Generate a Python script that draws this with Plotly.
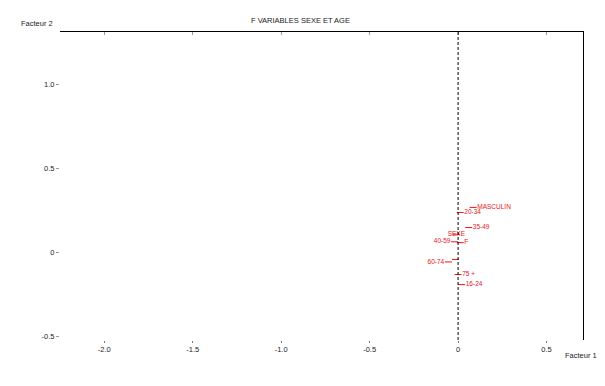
import plotly.graph_objects as go

# data
labels = ["MASCULIN", "20-34", "35-49", "SEXE", "40-59", "F", "60-74", "", "75 +", "16-24"]
fx = [0.085, 0.012, 0.060, -0.010, -0.020, 0.012, -0.055, -0.015, 0.000, 0.020]
fy = [0.270, 0.240, 0.150, 0.110, 0.065, 0.060, -0.055, -0.040, -0.130, -0.190]
textpos = ["middle right", "middle right", "middle right", "middle center", "middle left",
           "middle right", "middle left", "middle right", "middle right", "middle right"]
xticks = [-2.0, -1.5, -1.0, -0.5, 0, 0.5]
xticktext = ["-2.0", "-1.5", "-1.0", "-0.5", "0", "0.5"]
yticks = [1.0, 0.5, 0, -0.5]
yticktext = ["1.0", "0.5", "0", "-0.5"]

FONT = "Liberation Sans"
red = "#e8141c"

fig = go.Figure()
fig.add_trace(go.Scatter(
    x=fx, y=fy, mode="markers+text", text=labels, textposition=textpos,
    marker=dict(symbol="line-ew", size=5, line=dict(color=red, width=1), color=red),
    textfont=dict(family=FONT, size=6.5, color=red),
    cliponaxis=False, showlegend=False, hoverinfo="skip"))
fig.add_trace(go.Scatter(x=[0], y=[0], xaxis="x2", mode="markers",
                         marker=dict(opacity=0), showlegend=False, hoverinfo="skip"))
fig.add_trace(go.Scatter(x=[0], y=[0], yaxis="y2", mode="markers",
                         marker=dict(opacity=0), showlegend=False, hoverinfo="skip"))

fig.update_layout(
    width=605, height=386, margin=dict(l=60, r=22, t=32, b=46),
    paper_bgcolor="white", plot_bgcolor="white",
    font=dict(family=FONT, size=7.5, color="#222"),
    xaxis=dict(range=[-2.25, 0.706], tickvals=xticks, ticktext=xticktext,
               showgrid=False, zeroline=False, showline=False,
               ticks="outside", ticklen=2, tickcolor="#777", tickwidth=1,
               tickfont=dict(family=FONT, size=7.5)),
    xaxis2=dict(range=[-2.25, 0.706], overlaying="x", side="top", anchor="y",
                tickvals=xticks, showticklabels=False, showgrid=False, zeroline=False,
                showline=True, linecolor="black", linewidth=1,
                ticks="inside", ticklen=3, tickcolor="#999"),
    yaxis=dict(range=[-0.52, 1.315], tickvals=yticks, ticktext=yticktext,
               showgrid=False, zeroline=False, showline=False,
               ticks="outside", ticklen=3, tickcolor="#999",
               tickfont=dict(family=FONT, size=7.5)),
    yaxis2=dict(range=[-0.52, 1.315], overlaying="y", side="right", anchor="x",
                showticklabels=False, showgrid=False, zeroline=False,
                showline=True, linecolor="black", linewidth=1, ticks=""),
    shapes=[dict(type="line", xref="x", yref="paper", x0=0, x1=0, y0=0, y1=1,
                 line=dict(color="black", width=1, dash="3px,2px"))],
    annotations=[
        dict(text="Facteur 2", xref="paper", yref="paper", x=-0.01, y=1.0, yshift=9,
             xanchor="right", yanchor="middle", showarrow=False,
             font=dict(family=FONT, size=7.5)),
        dict(text="F VARIABLES SEXE ET AGE", xref="paper", yref="paper",
             x=(300 - 60) / 523, y=1.0, yshift=12, xanchor="center", yanchor="middle",
             showarrow=False, font=dict(family=FONT, size=7.5)),
        dict(text="Facteur 1", xref="paper", yref="paper", x=1.0, y=0, yshift=-15,
             xanchor="left", xshift=-20, yanchor="middle", showarrow=False,
             font=dict(family=FONT, size=7.5)),
    ],
)

fig.write_html("out.html")
